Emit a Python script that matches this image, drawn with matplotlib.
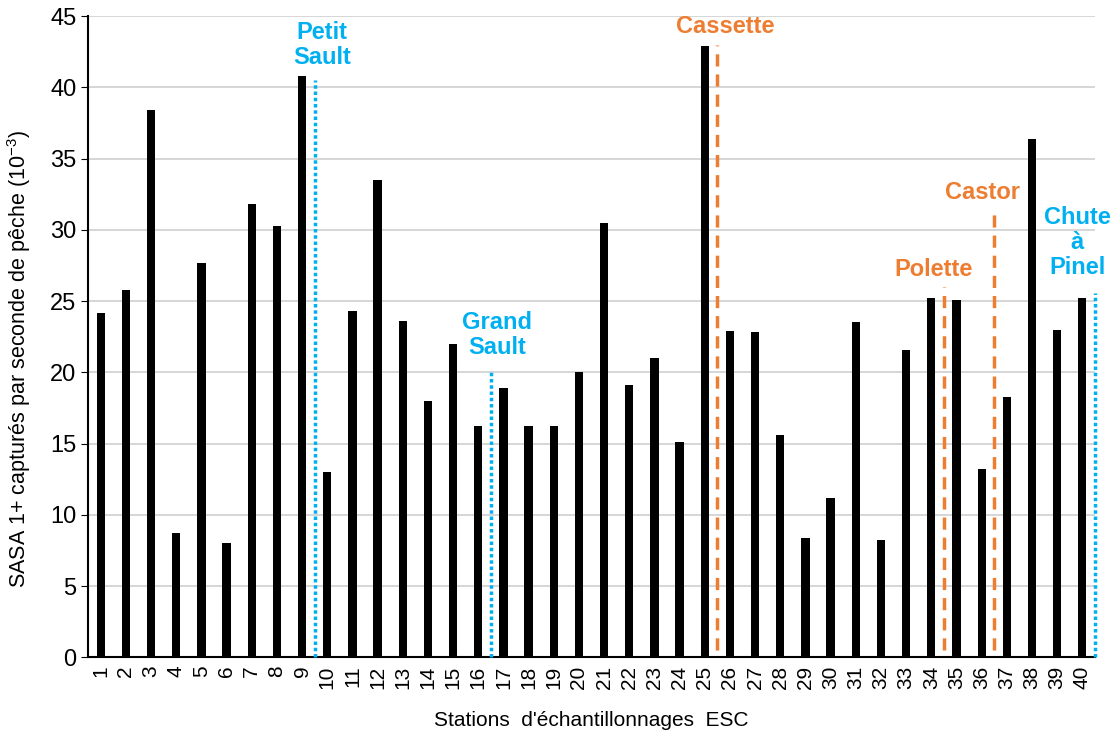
import numpy as np
import matplotlib.pyplot as plt

stations = [str(i) for i in range(1, 41)]
sasa = [24.2, 25.8, 38.4, 8.7, 27.7, 8.0, 31.8, 30.3, 40.8, 13.0,
        24.3, 33.5, 23.6, 18.0, 22.0, 16.2, 18.9, 16.2, 16.2, 20.0,
        30.5, 19.1, 21.0, 15.1, 42.9, 22.9, 22.8, 15.6, 8.4, 11.2,
        23.5, 8.2, 21.6, 25.2, 25.1, 13.2, 18.3, 36.4, 23.0, 25.2]

# barriers: position between stations, top of the marker line
barrier_names = ['Petit\nSault', 'Grand\nSault', 'Cassette', 'Polette', 'Castor', 'Chute\nà\nPinel']
barrier_pos = [9.5, 16.5, 25.5, 34.5, 36.5, 40.5]
barrier_top = [40.5, 20.0, 43.0, 26.0, 31.2, 25.6]
barrier_kind = ['natural', 'natural', 'dam', 'dam', 'dam', 'natural']
# where the names sit (centre of the text)
label_x = [9.79, 16.75, 25.8, 34.1, 36.05, 39.8]
label_y = [43.0, 22.6, 44.3, 27.2, 32.6, 29.1]

blue = '#00B0F0'
orange = '#ED7D31'

plt.rcParams['font.family'] = ['Liberation Sans', 'DejaVu Sans']
plt.rcParams['mathtext.default'] = 'regular'

fig = plt.figure(figsize=(11.15, 7.36), dpi=100)
ax = fig.add_axes([0.079, 0.107, 0.903, 0.871])

x = np.arange(1, len(stations) + 1)
ax.bar(x, sasa, width=0.33, color='black', zorder=3)

for name, pos, top, kind, lx, ly in zip(barrier_names, barrier_pos, barrier_top,
                                        barrier_kind, label_x, label_y):
    if kind == 'natural':
        ax.vlines(pos, 0, top, colors=blue, linewidth=2.5, linestyles=(0, (1, 0.8)),
                  zorder=4, clip_on=False)
        col = blue
    else:
        ax.vlines(pos, 0.5, top, colors=orange, linewidth=2.5, linestyles=(0, (3.5, 2.3)), zorder=4)
        col = orange
    ax.text(lx, ly, name, color=col, fontsize=17, fontweight='bold',
            ha='center', va='center', linespacing=1.12)

ax.set_xlim(0.5, 40.5)
ax.set_ylim(0, 45)
ax.set_yticks(np.arange(0, 46, 5))
ax.set_xticks(x)
ax.set_xticklabels(stations, rotation=90, fontsize=15)
ax.tick_params(axis='x', length=0, pad=6)
ax.tick_params(axis='y', labelsize=17, length=5, color='black')
ax.grid(axis='y', color='#d0d0d0', linewidth=1.2, zorder=0)
for s in ['top', 'right']:
    ax.spines[s].set_visible(False)
ax.spines['left'].set_linewidth(1.5)
ax.spines['bottom'].set_linewidth(1.5)

ax.set_xlabel("Stations  d'échantillonnages  ESC", fontsize=15, labelpad=16)
ax.set_ylabel(r'SASA 1+ capturés par seconde de pêche (10$^{-3}$)', fontsize=15.5)
ax.yaxis.set_label_coords(-0.055, 0.465)

plt.savefig('out.png', dpi=100)
